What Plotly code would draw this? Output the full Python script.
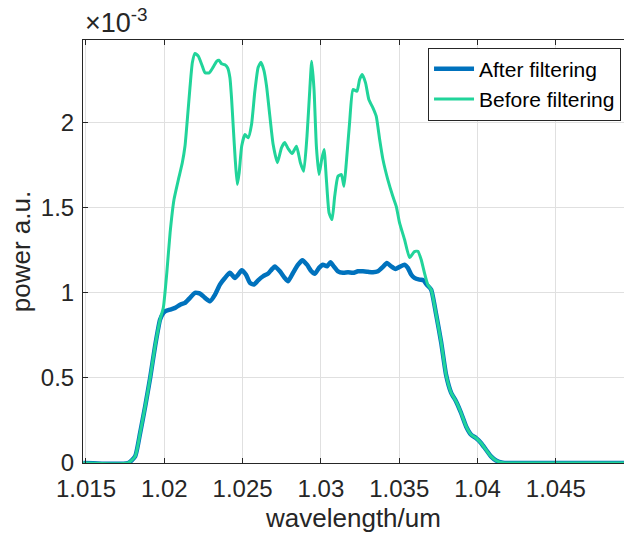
import plotly.graph_objects as go

# ---- data (wavelength in um, power in units of 1e-3 a.u.) ----
wl_before = [1.01483, 1.01769, 1.01814, 1.01846, 1.01878, 1.01910, 1.01941, 1.01973, 1.01994,
             1.02016, 1.02037, 1.02062, 1.02090, 1.02115, 1.02132, 1.02147, 1.02164, 1.02179,
             1.02196, 1.02217, 1.02239, 1.02260, 1.02287, 1.02313, 1.02334, 1.02349, 1.02366,
             1.02387, 1.02404, 1.02419, 1.02430, 1.02440, 1.02453, 1.02466, 1.02478, 1.02494,
             1.02515, 1.02536, 1.02557, 1.02578, 1.02599, 1.02617, 1.02636, 1.02653, 1.02674,
             1.02695, 1.02722, 1.02748, 1.02769, 1.02790, 1.02816, 1.02844, 1.02869, 1.02890,
             1.02911, 1.02929, 1.02941, 1.02956, 1.02971, 1.02988, 1.03005, 1.03020, 1.03035,
             1.03052, 1.03071, 1.03088, 1.03109, 1.03131, 1.03147, 1.03162, 1.03183, 1.03205,
             1.03230, 1.03247, 1.03264, 1.03285, 1.03306, 1.03332, 1.03353, 1.03375, 1.03396,
             1.03427, 1.03459, 1.03481, 1.03502, 1.03534, 1.03566, 1.03597, 1.03619, 1.03640,
             1.03661, 1.03682, 1.03704, 1.03736, 1.03768, 1.03799, 1.03831, 1.03863, 1.03895,
             1.03927, 1.03959, 1.03990, 1.04022, 1.04054, 1.04086, 1.04118, 1.04160, 1.04203,
             1.04935]
pw_before = [0.0, 0.0, 0.039, 0.178, 0.333, 0.502, 0.686, 0.843, 0.914,
             1.118, 1.353, 1.549, 1.666, 1.765, 1.862, 2.019, 2.208, 2.353,
             2.408, 2.392, 2.343, 2.294, 2.294, 2.329, 2.362, 2.368, 2.347,
             2.341, 2.324, 2.265, 2.137, 1.980, 1.784, 1.637, 1.706, 1.862,
             1.931, 1.912, 1.990, 2.184, 2.325, 2.356, 2.308, 2.215, 2.039,
             1.872, 1.766, 1.853, 1.884, 1.849, 1.819, 1.862, 1.765, 1.715,
             1.921, 2.196, 2.362, 2.196, 1.862, 1.696, 1.784, 1.843, 1.666,
             1.471, 1.431, 1.568, 1.686, 1.696, 1.627, 1.765, 2.000, 2.196,
             2.186, 2.255, 2.284, 2.235, 2.137, 2.088, 2.039, 1.902, 1.784,
             1.666, 1.568, 1.509, 1.412, 1.314, 1.208, 1.243, 1.245, 1.196,
             1.118, 1.049, 1.019, 0.872, 0.708, 0.519, 0.414, 0.362, 0.294,
             0.215, 0.166, 0.147, 0.118, 0.078, 0.039, 0.015, 0.002, 0.0,
             0.0]

wl_after = [1.01483, 1.01769, 1.01814, 1.01846, 1.01878, 1.01910, 1.01941, 1.01973, 1.01994,
            1.02005, 1.02037, 1.02069, 1.02101, 1.02132, 1.02164, 1.02196, 1.02228, 1.02260,
            1.02292, 1.02324, 1.02355, 1.02387, 1.02419, 1.02451, 1.02472, 1.02494, 1.02521,
            1.02547, 1.02572, 1.02599, 1.02631, 1.02663, 1.02685, 1.02706, 1.02738, 1.02769,
            1.02790, 1.02822, 1.02854, 1.02882, 1.02911, 1.02939, 1.02961, 1.02988, 1.03013,
            1.03039, 1.03061, 1.03082, 1.03109, 1.03141, 1.03173, 1.03205, 1.03236, 1.03268,
            1.03300, 1.03332, 1.03364, 1.03396, 1.03421, 1.03449, 1.03476, 1.03502, 1.03534,
            1.03555, 1.03576, 1.03597, 1.03629, 1.03655, 1.03678, 1.03704, 1.03736, 1.03768,
            1.03799, 1.03831, 1.03863, 1.03895, 1.03927, 1.03959, 1.03990, 1.04022, 1.04054,
            1.04086, 1.04118, 1.04160, 1.04203, 1.04935]
pw_after = [0.0, 0.0, 0.039, 0.178, 0.333, 0.502, 0.686, 0.843, 0.882,
            0.892, 0.902, 0.912, 0.931, 0.941, 0.971, 1.000, 0.996, 0.971,
            0.951, 0.990, 1.049, 1.088, 1.118, 1.088, 1.108, 1.133, 1.108,
            1.059, 1.049, 1.074, 1.098, 1.114, 1.137, 1.156, 1.127, 1.088,
            1.068, 1.118, 1.166, 1.192, 1.166, 1.127, 1.112, 1.147, 1.166,
            1.156, 1.180, 1.156, 1.127, 1.118, 1.121, 1.118, 1.127, 1.127,
            1.124, 1.121, 1.127, 1.153, 1.176, 1.156, 1.141, 1.153, 1.166,
            1.147, 1.108, 1.088, 1.078, 1.074, 1.046, 1.019, 0.872, 0.708,
            0.519, 0.414, 0.362, 0.294, 0.215, 0.166, 0.147, 0.118, 0.078,
            0.039, 0.015, 0.002, 0.0, 0.0]

x_ticks = [1.015, 1.02, 1.025, 1.03, 1.035, 1.04, 1.045]
x_ticktext = ["1.015", "1.02", "1.025", "1.03", "1.035", "1.04", "1.045"]
y_ticks = [0, 0.5, 1, 1.5, 2]
y_ticktext = ["0", "0.5", "1", "1.5", "2"]

FONT = "Liberation Sans, Arial, Helvetica, sans-serif"
AX = "rgb(38,38,38)"

fig = go.Figure()
fig.add_trace(go.Scatter(x=wl_after, y=pw_after, mode="lines", name="After filtering",
                         line=dict(color="#0072BD", width=4.5, shape="spline", smoothing=0.5)))
fig.add_trace(go.Scatter(x=wl_before, y=pw_before, mode="lines", name="Before filtering",
                         line=dict(color="#21D49A", width=3, shape="spline", smoothing=0.5)))

fig.update_layout(
    width=624, height=535,
    margin=dict(l=83, r=0, t=40, b=72),
    paper_bgcolor="white", plot_bgcolor="white",
    font=dict(family=FONT, size=24, color=AX),
    showlegend=True,
    legend=dict(x=0.9945, y=0.982, xanchor="right", yanchor="top",
                bgcolor="white", bordercolor="rgb(38,38,38)", borderwidth=1,
                font=dict(family=FONT, size=21, color="black"),
                tracegroupgap=0, itemwidth=40),
    xaxis=dict(range=[1.01481, 1.04935], tickvals=x_ticks, ticktext=x_ticktext,
               showgrid=True, gridcolor="#e0e0e0", gridwidth=1,
               showline=True, linecolor=AX, linewidth=1, mirror="ticks",
               ticks="inside", ticklen=5, tickcolor=AX, zeroline=False,
               ticklabelstandoff=4,
               title=dict(text="wavelength/um", font=dict(size=26, color=AX), standoff=8)),
    yaxis=dict(range=[0, 2.487], tickvals=y_ticks, ticktext=y_ticktext,
               showgrid=True, gridcolor="#e0e0e0", gridwidth=1,
               showline=True, linecolor=AX, linewidth=1,
               ticks="inside", ticklen=5, tickcolor=AX, zeroline=False,
               ticklabelstandoff=3,
               title=dict(text="power a.u.", font=dict(size=26, color=AX), standoff=2)),
    annotations=[dict(text="×10<sup>-3</sup>", xref="paper", yref="paper", x=0, y=1,
                      xanchor="left", yanchor="bottom", showarrow=False, yshift=0,
                      font=dict(family=FONT, size=27, color=AX))],
)

fig.write_html("out.html")
